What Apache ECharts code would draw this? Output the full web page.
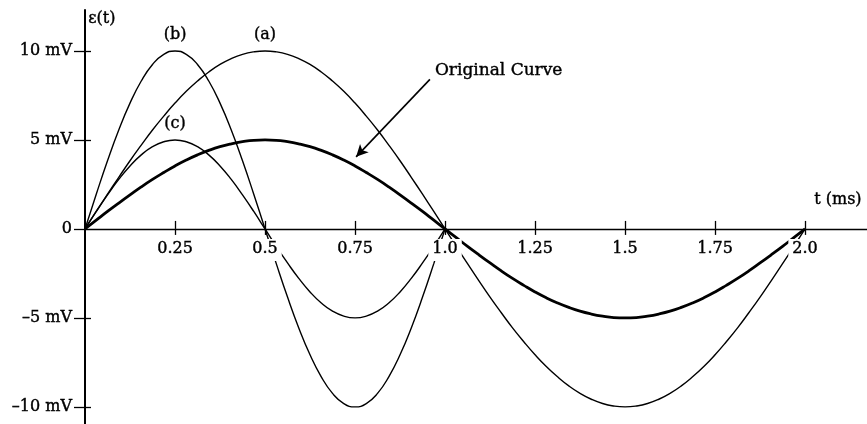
<!DOCTYPE html>
<html><head><meta charset="utf-8">
<script src="https://cdn.jsdelivr.net/npm/echarts@6/dist/echarts.min.js"></script>
<style>html,body{margin:0;padding:0;background:#fff}#c{width:867px;height:424px}</style>
</head><body><div id="c"></div>
<script>
// time samples (ms)
const times = [0,0.03125,0.0625,0.09375,0.125,0.15625,0.1875,0.21875,0.25,0.28125,0.3125,0.34375,0.375,0.40625,0.4375,0.46875,
  0.5,0.53125,0.5625,0.59375,0.625,0.65625,0.6875,0.71875,0.75,0.78125,0.8125,0.84375,0.875,0.90625,0.9375,0.96875,
  1,1.03125,1.0625,1.09375,1.125,1.15625,1.1875,1.21875,1.25,1.28125,1.3125,1.34375,1.375,1.40625,1.4375,1.46875,
  1.5,1.53125,1.5625,1.59375,1.625,1.65625,1.6875,1.71875,1.75,1.78125,1.8125,1.84375,1.875,1.90625,1.9375,1.96875,2];
// emf values (mV)
const originalCurve = [0,0.49,0.98,1.45,1.91,2.36,2.78,3.17,3.54,3.87,4.16,4.41,4.62,4.78,4.90,4.98,
  5.0,4.98,4.90,4.78,4.62,4.41,4.16,3.87,3.54,3.17,2.78,2.36,1.91,1.45,0.98,0.49,
  0,-0.49,-0.98,-1.45,-1.91,-2.36,-2.78,-3.17,-3.54,-3.87,-4.16,-4.41,-4.62,-4.78,-4.90,-4.98,
  -5.0,-4.98,-4.90,-4.78,-4.62,-4.41,-4.16,-3.87,-3.54,-3.17,-2.78,-2.36,-1.91,-1.45,-0.98,-0.49,0];
const curveA = [0,0.98,1.95,2.90,3.83,4.71,5.56,6.34,7.07,7.73,8.31,8.82,9.24,9.57,9.81,9.95,
  10,9.95,9.81,9.57,9.24,8.82,8.31,7.73,7.07,6.34,5.56,4.71,3.83,2.90,1.95,0.98,
  0,-0.98,-1.95,-2.90,-3.83,-4.71,-5.56,-6.34,-7.07,-7.73,-8.31,-8.82,-9.24,-9.57,-9.81,-9.95,
  -10,-9.95,-9.81,-9.57,-9.24,-8.82,-8.31,-7.73,-7.07,-6.34,-5.56,-4.71,-3.83,-2.90,-1.95,-0.98,0];
const curveB = [0,1.95,3.83,5.56,7.07,8.31,9.24,9.81,10,9.81,9.24,8.31,7.07,5.56,3.83,1.95,
  0,-1.95,-3.83,-5.56,-7.07,-8.31,-9.24,-9.81,-10,-9.81,-9.24,-8.31,-7.07,-5.56,-3.83,-1.95,0];
const curveC = [0,0.98,1.91,2.78,3.54,4.16,4.62,4.90,5,4.90,4.62,4.16,3.54,2.78,1.91,0.98,
  0,-0.98,-1.91,-2.78,-3.54,-4.16,-4.62,-4.90,-5,-4.90,-4.62,-4.16,-3.54,-2.78,-1.91,-0.98,0];
const curveNames = ['Original Curve','(a)','(b)','(c)'];
const curveLabelPoints = [[0.5,10],[0.25,10],[0.25,5]]; // peaks labelled (a),(b),(c)
const annotationArrow = [[0.958,8.4],[0.753,4.05]];
const xTickValues = [0.25,0.5,0.75,1,1.25,1.5,1.75,2];
const xTickLabels = ['0.25','0.5','0.75','1.0','1.25','1.5','1.75','2.0'];
const yTickValues = [-10,-5,0,5,10];
const yTickLabels = ['\u201310 mV','\u20135 mV','0','5 mV','10 mV'];
const xTitle = 't (ms)';
const yTitle = '\u03b5(t)';

const FONT = 'DejaVu Serif';
const W = 867, H = 424, GRID_TOP = 10, GRID_LEFT = 85;
const X_MIN = 0, X_MAX = 2.172, Y_MIN = -10.96, Y_MAX = 12.3;
// distance from grid bottom up to the zero line, so the tick labels sit on the t axis
const zeroOffset = -((H - GRID_TOP) * (0 - Y_MIN) / (Y_MAX - Y_MIN));

const pairs = (vals) => vals.map((v, i) => [times[i], v]);
const xFmt = (v) => { const i = xTickValues.findIndex(t => Math.abs(t - v) < 1e-6); return i < 0 ? '' : xTickLabels[i]; };
const yFmt = (v) => { const i = yTickValues.findIndex(t => Math.abs(t - v) < 1e-6); return i < 0 ? '' : yTickLabels[i]; };

const chart = echarts.init(document.getElementById('c'), null, {renderer: 'canvas'});
const heavy = {textBorderColor: '#000', textBorderWidth: 0.4};
const lblStyle = Object.assign({show: true, position: 'top', distance: 8, color: '#000', fontFamily: FONT, fontSize: 16}, heavy);
const mkLabel = (idx, text) => ({
  symbol: 'circle', symbolSize: 0, silent: true,
  label: Object.assign({}, lblStyle, {formatter: text}),
  data: [{coord: curveLabelPoints[idx]}]
});

const baseX = {type: 'value', min: X_MIN, max: X_MAX, position: 'bottom', z: 10,
  axisLine: {onZero: true, onZeroAxisIndex: 0, lineStyle: {color: '#000', width: 1.3}},
  splitLine: {show: false}};
const baseY = {type: 'value', min: Y_MIN, max: Y_MAX, position: 'left', z: 10,
  axisLine: {onZero: true, onZeroAxisIndex: 0, lineStyle: {color: '#000', width: 2}},
  splitLine: {show: false}};

chart.setOption({
  animation: false,
  backgroundColor: '#fff',
  grid: {left: GRID_LEFT, right: 0, top: GRID_TOP, bottom: 0, containLabel: false, outerBoundsMode: 'none'},
  xAxis: [
    Object.assign({}, baseX, {
      axisTick: {show: true, inside: false, length: 6, customValues: xTickValues, lineStyle: {color: '#000', width: 1.3}},
      axisLabel: {show: false}
    }),
    Object.assign({}, baseX, {
      axisLine: {show: false, onZero: true, onZeroAxisIndex: 0},
      axisTick: {show: true, inside: true, length: 8, customValues: xTickValues, lineStyle: {color: '#000', width: 1.3}},
      axisLabel: {show: false}
    }),
    Object.assign({}, baseX, {
      offset: zeroOffset,
      axisLine: {show: false, onZero: false},
      axisTick: {show: false},
      axisLabel: Object.assign({show: true, customValues: xTickValues, formatter: xFmt, margin: 10,
        color: '#000', fontFamily: FONT, fontSize: 16, backgroundColor: '#fff', padding: [2, 4, 4, 4]}, heavy)
    })
  ],
  yAxis: [
    Object.assign({}, baseY, {
      axisTick: {show: true, inside: false, length: 11, customValues: yTickValues, lineStyle: {color: '#000', width: 1.3}},
      axisLabel: Object.assign({show: true, customValues: yTickValues, formatter: yFmt, margin: 13,
        color: '#000', fontFamily: FONT, fontSize: 16}, heavy)
    }),
    Object.assign({}, baseY, {
      axisLine: {show: false, onZero: true, onZeroAxisIndex: 0},
      axisTick: {show: true, inside: true, length: 6, customValues: yTickValues.filter(v => v !== 0), lineStyle: {color: '#000', width: 1.3}},
      axisLabel: {show: false}
    })
  ],
  graphic: [
    {type: 'text', left: 88, top: 11, style: {text: yTitle, fill: '#000', font: '16px "DejaVu Serif"', stroke: '#000', lineWidth: 0.4}},
    {type: 'text', left: 814, top: 192, style: {text: xTitle, fill: '#000', font: '16px "DejaVu Serif"', stroke: '#000', lineWidth: 0.4}}
  ],
  series: [
    {name: curveNames[0], type: 'line', data: pairs(originalCurve), smooth: true, showSymbol: false,
      lineStyle: {color: '#000', width: 2.8}, z: 3,
      markLine: {silent: true, symbol: ['none', 'arrow'], symbolSize: [9, 12],
        lineStyle: {color: '#000', width: 1.6, type: 'solid'}, label: {show: false},
        data: [[{coord: annotationArrow[0]}, {coord: annotationArrow[1]}]]},
      markPoint: {symbol: 'circle', symbolSize: 0, silent: true,
        label: Object.assign({show: true, position: 'right', distance: 5, offset: [0, -9], formatter: curveNames[0],
          color: '#000', fontFamily: FONT, fontSize: 17}, heavy),
        data: [{coord: annotationArrow[0]}]}
    },
    {name: curveNames[1], type: 'line', data: pairs(curveA), smooth: true, showSymbol: false,
      lineStyle: {color: '#000', width: 1.4}, markPoint: mkLabel(0, curveNames[1])},
    {name: curveNames[2], type: 'line', data: pairs(curveB), smooth: true, showSymbol: false,
      lineStyle: {color: '#000', width: 1.4}, markPoint: mkLabel(1, curveNames[2])},
    {name: curveNames[3], type: 'line', data: pairs(curveC), smooth: true, showSymbol: false,
      lineStyle: {color: '#000', width: 1.4}, markPoint: mkLabel(2, curveNames[3])}
  ]
});
</script>
</body></html>
